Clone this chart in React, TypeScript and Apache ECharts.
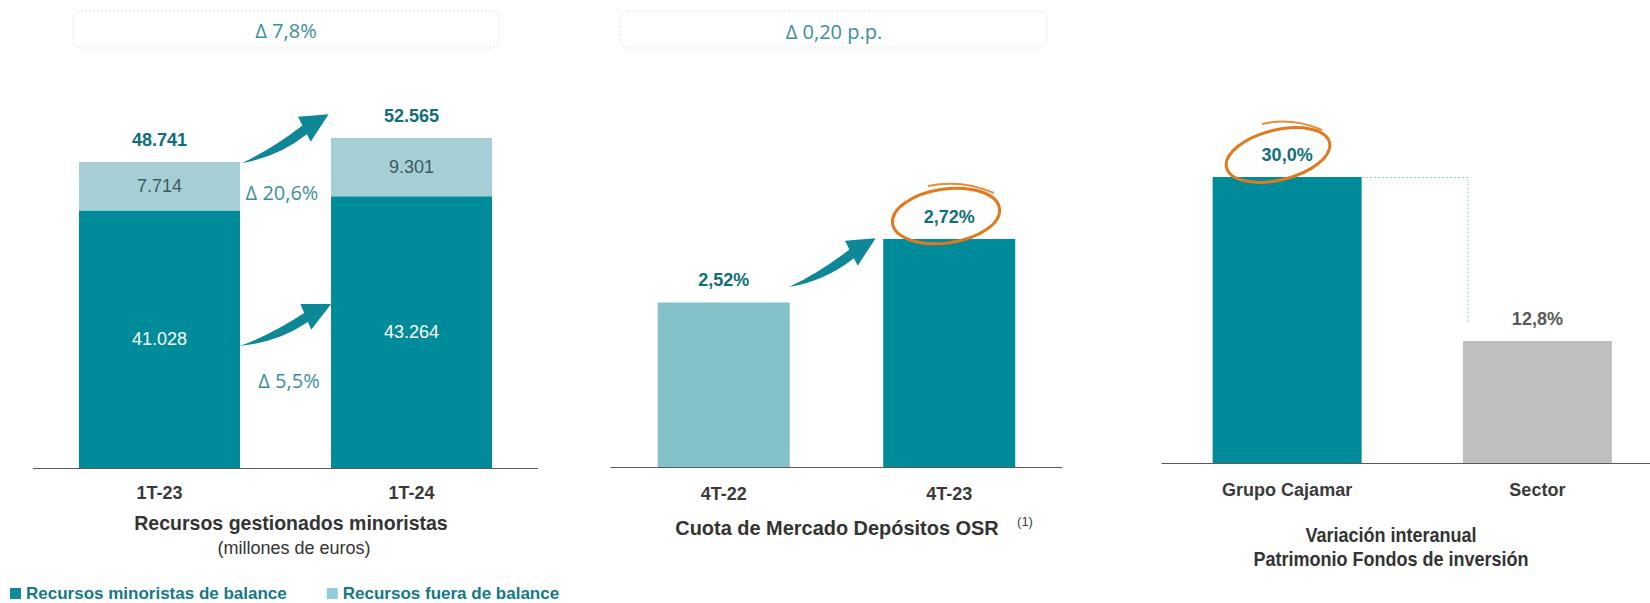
import React, { useEffect, useRef } from "react";
import * as echarts from "echarts";

// ---------- data ----------
const cats1 = ["1T-23", "1T-24"];
const balance = [41028, 43264];
const offBalance = [7714, 9301];
const totals1 = [48741, 52565];
const legendNames = ["Recursos minoristas de balance", "Recursos fuera de balance"];

const cats2 = ["4T-22", "4T-23"];
const cuota = [2.52, 2.72];

const cats3 = ["Grupo Cajamar", "Sector"];
const variacion = [30.0, 12.8];

const headerDeltas = ["\u0394 7,8%", "\u0394 0,20 p.p."];
const stackDeltas = ["\u0394 20,6%", "\u0394 5,5%"];
const title1 = "Recursos gestionados minoristas";
const subtitle1 = "(millones de euros)";
const title2 = "Cuota de Mercado Depósitos OSR";
const note2 = "(1)";
const title3a = "Variación interanual";
const title3b = "Patrimonio Fondos de inversión";

// ---------- styles ----------
const SANS = "'Liberation Sans', Arial, sans-serif";
const OPEN = "'Open Sans', sans-serif";
const TEAL = "#008B9B";
const LIGHT1 = "#A5CFD5";
const LIGHT2 = "#84C1C9";
const GRAY = "#BFBFBF";
const LABEL_TEAL = "#0F6F7A";
const AXIS_TXT = "#3A3A3A";
const DELTA_TXT = "#3A8FA0";
const ORANGE = "#E07A1F";
const ARROW = "#0E8796";

const swooshPath =
  "M0,0 Q30,-14 60.4,-37.5 L56,-46.3 L86.6,-48.7 L68.7,-21.3 L64.9,-28.8 Q36,-6 0,0 Z";
echarts.graphic.registerShape("swoosh", echarts.graphic.extendPath(swooshPath, {}));

const thousands = (v: number) => String(v).replace(/\B(?=(\d{3})+(?!\d))/g, ".");
const pct = (v: number, d: number) => v.toFixed(d).replace(".", ",") + "%";

export default function App() {
  const ref = useRef<HTMLDivElement>(null);
  useEffect(() => {
    document.body.style.margin = "0";
    if (!ref.current) return;
    const chart = echarts.init(ref.current, undefined, { renderer: "svg" });

    const axisLabelStyle = (margin: number) => ({
      fontFamily: SANS,
      fontWeight: "bold",
      fontSize: 18,
      color: AXIS_TXT,
      margin,
    });

    const xAxisBase = (gridIndex: number, data: string[], margin: number) => ({
      type: "category",
      gridIndex,
      data,
      axisLine: { show: true, lineStyle: { color: "#595959", width: 1 } },
      axisTick: { show: false },
      axisLabel: axisLabelStyle(margin),
    });

    const topLabel = (color: string, formatter: any) => ({
      show: true,
      position: "top",
      distance: 13,
      fontFamily: SANS,
      fontWeight: "bold",
      fontSize: 18,
      color,
      formatter,
    });

    const text = (x: number, y: number, t: string, extra: any, sx = 1) => ({
      type: "text",
      x,
      y,
      scaleX: sx,
      z: 100,
      style: { text: t, textAlign: "center", textVerticalAlign: "middle", ...extra },
    });

    const option: any = {
      animation: false,
      backgroundColor: "#ffffff",
      legend: {
        left: 5,
        top: 580,
        itemWidth: 11,
        itemHeight: 11,
        itemGap: 40,
        icon: "rect",
        data: [
          { name: legendNames[0], itemStyle: { color: "#138A98" } },
          { name: legendNames[1], itemStyle: { color: "#93CDDD" } },
        ],
        textStyle: { fontFamily: SANS, fontWeight: "bold", fontSize: 17, color: "#137A86" },
      },
      grid: [
        { left: 33.5, top: 91.3, width: 504, height: 376.7 },
        { left: 611, top: 87.2, width: 451, height: 379.8 },
        { left: 1162, top: 81.7, width: 488, height: 381.3 },
      ],
      xAxis: [
        xAxisBase(0, cats1, 16),
        xAxisBase(1, cats2, 18),
        {
          type: "value",
          gridIndex: 2,
          min: 0,
          max: 1.95,
          interval: 0.5,
          axisLine: { show: true, onZero: false, lineStyle: { color: "#595959", width: 1 } },
          axisTick: { show: false },
          splitLine: { show: false },
          axisLabel: {
            ...axisLabelStyle(18),
            showMaxLabel: false,
            formatter: (v: number) => {
              const k = v - 0.5;
              return Math.abs(k - Math.round(k)) < 1e-6 && cats3[Math.round(k)] ? cats3[Math.round(k)] : "";
            },
          },
        },
      ],
      yAxis: [
        { type: "value", gridIndex: 0, min: 0, max: 60000, show: false, splitLine: { show: false } },
        { type: "value", gridIndex: 1, min: 2, max: 3.2, show: false, splitLine: { show: false } },
        { type: "value", gridIndex: 2, min: 0, max: 40, show: false, splitLine: { show: false } },
      ],
      series: [
        {
          name: legendNames[0],
          type: "bar",
          stack: "rec",
          xAxisIndex: 0,
          yAxisIndex: 0,
          barWidth: 161,
          data: balance,
          itemStyle: { color: TEAL },
          label: {
            show: true,
            position: "inside",
            fontFamily: SANS,
            fontSize: 18,
            color: "#ffffff",
            formatter: (p: any) => thousands(p.value),
          },
        },
        {
          name: legendNames[1],
          type: "bar",
          stack: "rec",
          xAxisIndex: 0,
          yAxisIndex: 0,
          barWidth: 161,
          data: offBalance,
          itemStyle: { color: LIGHT1 },
          label: {
            show: true,
            position: "inside",
            fontFamily: SANS,
            fontSize: 18,
            color: "#3D5A60",
            formatter: (p: any) => thousands(p.value),
          },
        },
        {
          name: "Total",
          type: "bar",
          xAxisIndex: 0,
          yAxisIndex: 0,
          barWidth: 161,
          barGap: "-100%",
          data: totals1,
          itemStyle: { color: "rgba(0,0,0,0)" },
          label: topLabel(LABEL_TEAL, (p: any) => thousands(p.value)),
          z: 1,
        },
        {
          name: "Cuota",
          type: "bar",
          xAxisIndex: 1,
          yAxisIndex: 1,
          barWidth: 132,
          data: cuota.map((v, i) => ({ value: v, itemStyle: { color: [LIGHT2, TEAL][i] } })),
          label: topLabel(LABEL_TEAL, (p: any) => pct(p.value, 2)),
        },
        {
          name: "Variacion",
          type: "bar",
          xAxisIndex: 2,
          yAxisIndex: 2,
          barWidth: 149,
          data: variacion.map((v, i) => ({
            value: [i + 0.5, v],
            itemStyle: { color: [TEAL, GRAY][i] },
            label: { color: [LABEL_TEAL, "#595959"][i] },
          })),
          label: topLabel(LABEL_TEAL, (p: any) => pct(p.value[1], 1)),
        },
      ],
      graphic: [
        {
          type: "rect",
          z: 50,
          shape: { x: 73, y: 11, width: 426, height: 37, r: 8 },
          style: { fill: "#ffffff", stroke: "#e2e2e2", lineWidth: 1, lineDash: [2, 2] },
        },
        text(286, 30, headerDeltas[0], { fontFamily: OPEN, fontSize: 20, fill: DELTA_TXT }),
        {
          type: "rect",
          z: 50,
          shape: { x: 620, y: 11, width: 427, height: 37, r: 8 },
          style: { fill: "#ffffff", stroke: "#e2e2e2", lineWidth: 1, lineDash: [2, 2] },
        },
        text(834, 31, headerDeltas[1], { fontFamily: OPEN, fontSize: 20, fill: DELTA_TXT }),
        { type: "swoosh", x: 242, y: 163, z: 100, style: { fill: ARROW } },
        { type: "swoosh", x: 241, y: 345.7, rotation: -0.078, z: 100, style: { fill: ARROW } },
        { type: "swoosh", x: 789, y: 287, z: 100, style: { fill: ARROW } },
        text(282, 192, stackDeltas[0], { fontFamily: OPEN, fontSize: 20, fill: DELTA_TXT }),
        text(289, 380, stackDeltas[1], { fontFamily: OPEN, fontSize: 20, fill: DELTA_TXT }),
        text(291, 523, title1, { fontFamily: SANS, fontWeight: "bold", fontSize: 21, fill: "#333333" }, 0.93),
        text(294, 548, subtitle1, { fontFamily: SANS, fontSize: 18, fill: "#333333" }),
        text(837, 527, title2, { fontFamily: SANS, fontWeight: "bold", fontSize: 21, fill: "#333333" }, 0.95),
        text(1025, 521, note2, { fontFamily: SANS, fontSize: 13, fill: "#404040" }),
        text(1391, 535, title3a, { fontFamily: SANS, fontWeight: "bold", fontSize: 20, fill: "#333333" }, 0.9),
        text(1391, 559, title3b, { fontFamily: SANS, fontWeight: "bold", fontSize: 20, fill: "#333333" }, 0.9),
        {
          type: "ellipse",
          x: 946,
          y: 216,
          rotation: 0.14,
          z: 100,
          shape: { cx: 0, cy: 0, rx: 54, ry: 27 },
          style: { fill: "none", stroke: ORANGE, lineWidth: 3 },
        },
        {
          type: "bezierCurve",
          z: 100,
          shape: { x1: 928, y1: 186, cpx1: 962, cpy1: 179, x2: 994, y2: 193 },
          style: { fill: "none", stroke: ORANGE, lineWidth: 2, opacity: 0.85 },
        },
        {
          type: "ellipse",
          x: 1278,
          y: 155,
          rotation: 0.24,
          z: 100,
          shape: { cx: 0, cy: 0, rx: 53, ry: 25 },
          style: { fill: "none", stroke: ORANGE, lineWidth: 3 },
        },
        {
          type: "bezierCurve",
          z: 100,
          shape: { x1: 1262, y1: 124, cpx1: 1292, cpy1: 117, x2: 1322, y2: 130 },
          style: { fill: "none", stroke: ORANGE, lineWidth: 2, opacity: 0.85 },
        },
        {
          type: "polyline",
          z: 100,
          shape: { points: [[1362, 177.5], [1468, 177.5], [1468, 323]] },
          style: { fill: "none", stroke: "#9CCFD6", lineWidth: 1.2, lineDash: [2, 2] },
        },
      ],
    };

    chart.setOption(option);
    return () => chart.dispose();
  }, []);

  return <div ref={ref} style={{ width: 1650, height: 603 }} />;
}
